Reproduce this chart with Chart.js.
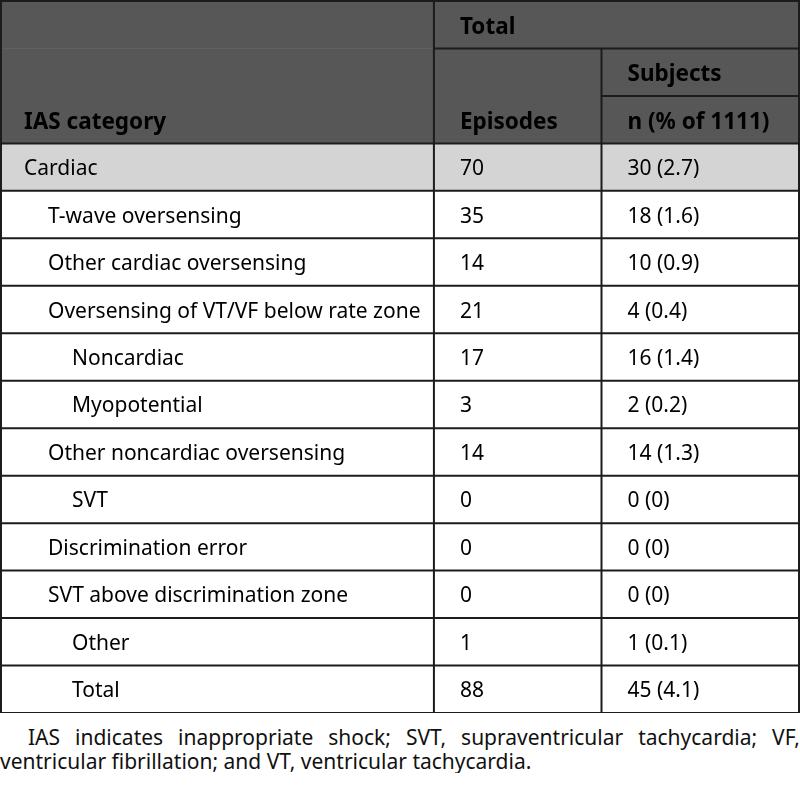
<!DOCTYPE html>
<html>
<head>
<meta charset="utf-8">
<title>IAS categories</title>
<script src="https://cdn.jsdelivr.net/npm/chart.js@4.4.1/dist/chart.umd.min.js"></script>
<style>
    body { margin: 0; background: #fff; }
    #wrap { position: relative; width: 800px; height: 713px; }
    #note {
        margin: 12px 0 0 0;
        width: 800px;
        font: 21px "Noto Sans", sans-serif;
        line-height: 24px;
        text-align: justify;
        text-indent: 28px;
        color: #111;
    }
</style>
</head>
<body>
<div id="wrap"><canvas id="tableChart"></canvas></div>
<p id="note">IAS indicates inappropriate shock; SVT, supraventricular tachycardia; VF, ventricular fibrillation; and VT, ventricular tachycardia.</p>

<script>
// Table data
const headerTop = 'Total';
const headerGroup = 'Subjects';
const columnTitles = ['IAS category', 'Episodes', 'n (% of 1111)'];

const categories = [
    'Cardiac',
    'T-wave oversensing',
    'Other cardiac oversensing',
    'Oversensing of VT/VF below rate zone',
    'Noncardiac',
    'Myopotential',
    'Other noncardiac oversensing',
    'SVT',
    'Discrimination error',
    'SVT above discrimination zone',
    'Other',
    'Total'
];
const indentLevels = [0, 1, 1, 1, 2, 2, 1, 2, 1, 1, 2, 2];
const episodes = [70, 35, 14, 21, 17, 3, 14, 0, 0, 0, 1, 88];
const subjectCounts = [30, 18, 10, 4, 16, 2, 14, 0, 0, 0, 1, 45];
const subjectPercents = [2.7, 1.6, 0.9, 0.4, 1.4, 0.2, 1.3, 0, 0, 0, 0.1, 4.1];
const shadedRows = ['Cardiac'];

// Layout (table units on the x scale)
const TABLE_WIDTH = 800;
const COL_EDGES = [0, 434, 602, TABLE_WIDTH];
const HEADER_ROWS = 3;
const HEADER_BG = '#575757';
const SHADE_BG = '#d4d4d4';
const LINE_COLOR = '#1c1c1c';
const FONT = '"Noto Sans", sans-serif';

const rowLabels = ['header-0', 'header-1', 'header-2'].concat(categories);

function subjectText(i) {
    const p = subjectPercents[i];
    return subjectCounts[i] + ' (' + (p === 0 ? '0' : p.toFixed(1)) + ')';
}

// row backgrounds as floating bars across the full width
const bgData = rowLabels.map((label, i) => {
    if (i < HEADER_ROWS || shadedRows.includes(label)) return [0, TABLE_WIDTH];
    return null;
});
const bgColors = rowLabels.map((label, i) => i < HEADER_ROWS ? HEADER_BG : SHADE_BG);

const tablePlugin = {
    id: 'tableCells',
    afterDatasetsDraw(chart) {
        const { ctx, scales: { x, y }, chartArea } = chart;
        const band = y.getPixelForValue(1) - y.getPixelForValue(0);
        const top = i => (i >= rowLabels.length ? chartArea.bottom : y.getPixelForValue(i) - band / 2);
        const mid = i => y.getPixelForValue(i);
        const colX = COL_EDGES.map(v => x.getPixelForValue(v));

        ctx.save();
        ctx.strokeStyle = LINE_COLOR;
        ctx.lineWidth = 2;

        function hline(yy, x0, x1) {
            ctx.beginPath();
            ctx.moveTo(x0, yy);
            ctx.lineTo(x1, yy);
            ctx.stroke();
        }
        function vline(xx, y0, y1) {
            ctx.beginPath();
            ctx.moveTo(xx, y0);
            ctx.lineTo(xx, y1);
            ctx.stroke();
        }

        const bottom = top(rowLabels.length);
        // header lines
        hline(top(0), colX[0] - 1, colX[3] + 1);
        hline(top(1), colX[1], colX[3]);
        hline(top(2), colX[2], colX[3]);
        // data row lines
        for (let i = HEADER_ROWS; i <= rowLabels.length; i++) {
            hline(top(i), colX[0], colX[3]);
        }
        vline(colX[0], top(0), bottom);
        vline(colX[1], top(0), bottom);
        vline(colX[2], top(1), bottom);
        vline(colX[3], top(0), bottom);

        // header text
        ctx.fillStyle = '#000';
        ctx.textBaseline = 'middle';
        ctx.textAlign = 'left';
        ctx.font = 'bold 22.5px ' + FONT;
        ctx.fillText(headerTop, colX[1] + 26, mid(0) + 3);
        ctx.fillText(headerGroup, colX[2] + 26, mid(1) + 2);
        ctx.fillText(columnTitles[0], colX[0] + 23, mid(2) + 3);
        ctx.fillText(columnTitles[1], colX[1] + 26, mid(2) + 3);
        ctx.fillText(columnTitles[2], colX[2] + 26, mid(2) + 3);

        // body text
        ctx.font = '21px ' + FONT;
        categories.forEach((name, i) => {
            const row = i + HEADER_ROWS;
            const yy = mid(row) + 2;
            ctx.fillText(name, colX[0] + 23 + indentLevels[i] * 24, yy);
            ctx.fillText(String(episodes[i]), colX[1] + 26, yy);
            ctx.fillText(subjectText(i), colX[2] + 26, yy);
        });
        ctx.restore();
    }
};

new Chart(document.getElementById('tableChart'), {
    type: 'bar',
    data: {
        labels: rowLabels,
        datasets: [{
            label: 'row background',
            data: bgData,
            backgroundColor: bgColors,
            borderWidth: 0,
            barPercentage: 1,
            categoryPercentage: 1
        }]
    },
    options: {
        indexAxis: 'y',
        responsive: true,
        maintainAspectRatio: false,
        animation: false,
        layout: { padding: { top: 1, left: 1, right: 1, bottom: 0 } },
        plugins: {
            legend: { display: false },
            tooltip: { enabled: false }
        },
        scales: {
            x: { display: false, min: 0, max: TABLE_WIDTH },
            y: { display: false }
        }
    },
    plugins: [tablePlugin]
});
</script>
</body>
</html>
